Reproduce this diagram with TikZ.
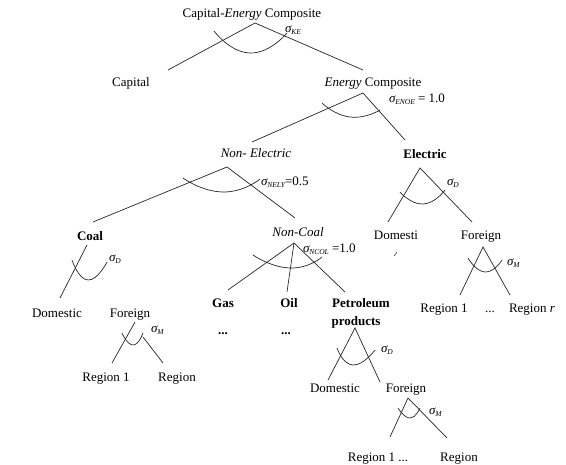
\documentclass[tikz,border=0pt]{standalone}
\usepackage{fontspec}
\setmainfont{Liberation Serif}
\newcommand{\sg}[1]{{\itshape σ\kern-0.3pt\raisebox{-0.3ex}{\fontsize{7.5}{8}\selectfont #1}}}
\begin{document}
\begin{tikzpicture}[x=1pt,y=-1pt,
  lbl/.style={anchor=base,inner sep=0pt,font=\fontsize{13}{15}\selectfont},
  sgl/.style={anchor=west,inner sep=0pt,font=\fontsize{13}{15}\selectfont},
  ln/.style={line width=0.7pt,draw=black!85},
  arcl/.style={line width=0.7pt,draw=black!85}]
\useasboundingbox[fill=white] (0,0) rectangle (566,465);

% ---- labels ----
\node[lbl] (ce) at (252,18) {Capital-\textit{Energy} Composite};
\node[lbl] (cap) at (131,87) {Capital};
\node[lbl] (ec) at (373,87) {\textit{Energy} Composite};
\node[lbl] (ne) at (256,158) {\textit{Non- Electric}};
\node[lbl] (el) at (425,159) {\textbf{Electric}};
\node[lbl] (coal) at (90,241) {\textbf{Coal}};
\node[lbl] (nc) at (298,237) {\textit{Non-Coal}};
\node[lbl] (cdom) at (57,318) {Domestic};
\node[lbl] (cfor) at (130,318) {Foreign};
\node[lbl] (gas) at (223,308) {\textbf{Gas}};
\node[lbl] (oil) at (289,308) {\textbf{Oil}};
\node[lbl] (gdots) at (223,335) {\textbf{...}};
\node[lbl] (odots) at (286,335) {\textbf{...}};
\node[lbl] (cr1) at (106,382) {Region 1};
\node[lbl] (crr) at (177,382) {Region};
\node[lbl] (edom) at (396,240) {Domesti};
\node[lbl] (efor) at (481,240) {Foreign};
\node[lbl] (er1) at (444,313) {Region 1};
\node[lbl] (edots) at (490,313) {...};
\node[lbl] (err) at (532,313) {Region \textit{r}};
\node[lbl,align=left] (pet) at (361,308) {\textbf{Petroleum}};
\node[lbl] (pro) at (356,326) {\textbf{products}};
\node[lbl] (pdom) at (335,393) {Domestic};
\node[lbl] (pfor) at (406,393) {Foreign};
\node[lbl] (pr1) at (378,462) {Region 1 ...};
\node[lbl] (prr) at (459,462) {Region};

% ---- sigma labels ----
\node[sgl] (s1) at (285,30) {\sg{KE}};
\node[sgl] (s2) at (389,99) {\sg{ENOE} = 1.0};
\node[sgl] (s3) at (261,182) {\sg{NELY}=0.5};
\node[sgl] (s4) at (447,183) {\sg{D}};
\node[sgl] (s5) at (109,259) {\sg{D}};
\node[sgl] (s6) at (303,249) {\sg{NCOL} =1.0};
\node[sgl] (s7) at (151,330) {\sg{M}};
\node[sgl] (s8) at (507,263) {\sg{M}};
\node[sgl] (s9) at (381,350) {\sg{D}};
\node[sgl] (s10) at (429,412) {\sg{M}};

% ---- branch points ----
\coordinate (a1) at (255,23);
\coordinate (a1l) at (168,70);
\coordinate (a1r) at (363,70);
\coordinate (a2) at (363,93);
\coordinate (a2l) at (252,142);
\coordinate (a2r) at (405,140);
\coordinate (a3) at (227,167);
\coordinate (a3l) at (93,222);
\coordinate (a3r) at (295,218);
\coordinate (a4) at (420,168);
\coordinate (a4l) at (388,222);
\coordinate (a4r) at (472,222);
\coordinate (a5) at (87,245);
\coordinate (a5l) at (60,298);
\coordinate (a6) at (135,322);
\coordinate (a6l) at (112,363);
\coordinate (a6m) at (143,337);
\coordinate (a6r) at (163,363);
\coordinate (a7) at (294,243);
\coordinate (a7l) at (228,290);
\coordinate (a7m) at (287,292);
\coordinate (a7r) at (345,292);
\coordinate (a8) at (483,247);
\coordinate (a8l) at (460,295);
\coordinate (a8r) at (510,295);
\coordinate (a9) at (355,328);
\coordinate (a9l) at (328,380);
\coordinate (a9r) at (380,382);
\coordinate (a10) at (408,398);
\coordinate (a10l) at (390,437);
\coordinate (a10r) at (447,438);
\coordinate (m1) at (394,256);
\coordinate (m2) at (397,252);

% ---- connectors ----
\draw[ln] (a1l) -- (a1) -- (a1r);
\draw[ln] (a2l) -- (a2) -- (a2r);
\draw[ln] (a3l) -- (a3) -- (a3r);
\draw[ln] (a4l) -- (a4) -- (a4r);
\draw[ln] (a5) -- (a5l);
\draw[ln] (a6l) -- (a6);
\draw[ln] (a6m) -- (a6r);
\draw[ln] (a7) -- (a7l);
\draw[ln] (a7) -- (a7m);
\draw[ln] (a7) -- (a7r);
\draw[ln] (a8l) -- (a8) -- (a8r);
\draw[ln] (a9l) -- (a9) -- (a9r);
\draw[ln] (a10l) -- (a10) -- (a10r);
\draw[ln,line width=0.5pt] (m1) -- (m2);

% ---- elasticity arcs ----
\draw[arcl] plot[smooth,tension=1] coordinates {(214,31) (250,53) (287,33)};
\draw[arcl] plot[smooth,tension=1] coordinates {(322,103) (350,117) (380,110)};
\draw[arcl] plot[smooth,tension=1] coordinates {(183,178) (223,192) (260,179)};
\draw[arcl] plot[smooth,tension=1] coordinates {(400,192) (423,204) (445,190)};
\draw[arcl] plot[smooth,tension=1] coordinates {(72,260) (88,280) (107,262)};
\draw[arcl] plot[smooth,tension=1] coordinates {(122,333) (133,345) (143,333)};
\draw[arcl] plot[smooth,tension=1] coordinates {(253,255) (290,268) (322,257)};
\draw[arcl] plot[smooth,tension=1] coordinates {(468,258) (485,272) (502,260)};
\draw[arcl] plot[smooth,tension=1] coordinates {(337,348) (353,365) (375,350)};
\draw[arcl] plot[smooth,tension=1] coordinates {(398,408) (410,418) (420,408)};
\end{tikzpicture}
\end{document}
